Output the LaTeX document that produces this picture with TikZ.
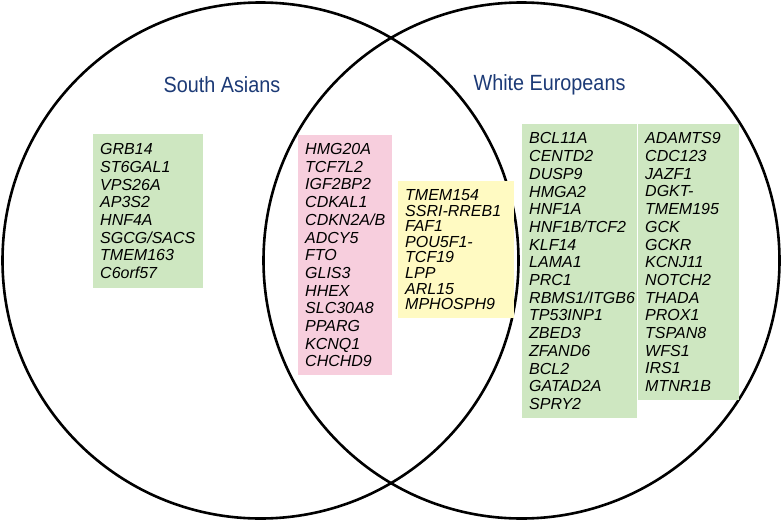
\documentclass[tikz,border=0pt]{standalone}
\usepackage{fontspec}
\setmainfont{Liberation Sans}
\newfontfamily\titlefont[FakeStretch=0.9]{Liberation Sans}
\usetikzlibrary{positioning}
\definecolor{setgreen}{RGB}{206,231,193}
\definecolor{setpink}{RGB}{247,206,221}
\definecolor{setyellow}{RGB}{255,250,194}
\definecolor{titleblue}{RGB}{28,58,118}
\tikzset{
  setcircle/.style={circle, draw, line width=2.6pt, minimum size=516pt, inner sep=0pt},
  settitle/.style={font=\titlefont\fontsize{22}{24}\selectfont, text=titleblue},
  genebox/.style={anchor=north west, align=left, inner xsep=7pt, inner ysep=0pt,
    font=\itshape\fontsize{16}{17.7}\selectfont},
}
\begin{document}
\begin{tikzpicture}[x=1pt, y=-1pt]
  \useasboundingbox (0,0) rectangle (784,522);
  % the two sets
  \node[setcircle] (sa) at (260.5,260.5) {};
  \node[setcircle] (we) at (521.5,260.5) {};
  \node[settitle] (satitle) at (222,85) {South Asians};
  \node[settitle] (wetitle) at (549.5,85) {White Europeans};
  % loci found in South Asians only
  \node[genebox, fill=setgreen, minimum width=110pt, text width=96pt, minimum height=154pt] (saonly) at (93,134)
    {GRB14\\ST6GAL1\\VPS26A\\AP3S2\\HNF4A\\SGCG/SACS\\TMEM163\\C6orf57};
  % loci shared by both
  \node[genebox, fill=setpink, minimum width=94pt, text width=80pt, minimum height=240pt] (shared) at (298,135)
    {HMG20A\\TCF7L2\\IGF2BP2\\CDKAL1\\CDKN2A/B\\ADCY5\\FTO\\GLIS3\\HHEX\\SLC30A8\\PPARG\\KCNQ1\\CHCHD9};
  \node[genebox, fill=setyellow, minimum width=116pt, text width=102pt, minimum height=137pt,
    font=\itshape\fontsize{16}{15.6}\selectfont] (sharedb) at (398,181)
    {TMEM154\\SSRI-RREB1\\FAF1\\POU5F1-\\TCF19\\LPP\\ARL15\\MPHOSPH9};
  % loci found in White Europeans only
  \node[genebox, fill=setgreen, minimum width=115pt, text width=101pt, minimum height=294pt] (weonly) at (522,124)
    {BCL11A\\CENTD2\\DUSP9\\HMGA2\\HNF1A\\HNF1B/TCF2\\KLF14\\LAMA1\\PRC1\\RBMS1/ITGB6\\TP53INP1\\ZBED3\\ZFAND6\\BCL2\\GATAD2A\\SPRY2};
  \node[genebox, fill=setgreen, minimum width=101pt, text width=87pt, minimum height=276pt] (weonlyb) at (638,124)
    {ADAMTS9\\CDC123\\JAZF1\\DGKT-\\TMEM195\\GCK\\GCKR\\KCNJ11\\NOTCH2\\THADA\\PROX1\\TSPAN8\\WFS1\\IRS1\\MTNR1B};
\end{tikzpicture}
\end{document}
